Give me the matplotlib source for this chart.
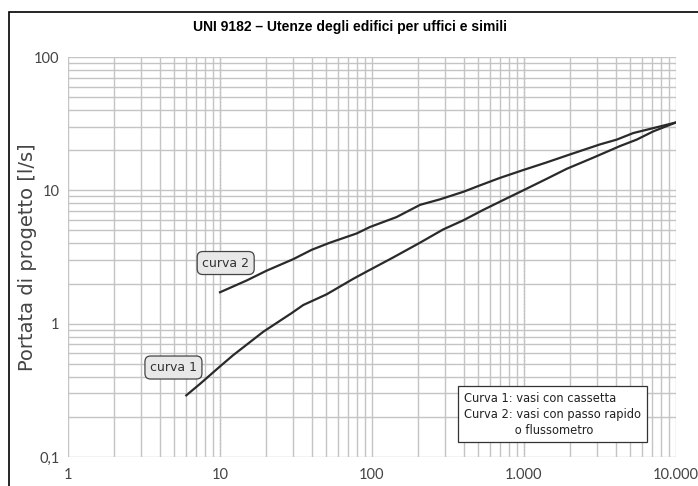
import matplotlib.pyplot as plt
from matplotlib.patches import Rectangle
from matplotlib.ticker import LogLocator, FixedLocator, NullFormatter

# Dati (UNI 9182)
x_curva1 = [6, 7.4, 10, 12.2, 19.3, 29.6, 35.3, 50.3, 75.3, 92.3, 138, 207, 294,
            399, 540, 769, 989, 1410, 1910, 2860, 4290, 5510, 7100, 10000]
y_curva1 = [0.29, 0.354, 0.478, 0.58, 0.871, 1.2, 1.38, 1.66, 2.17, 2.46, 3.14, 4.05, 5.09,
            5.96, 7.14, 8.7, 10.0, 12.2, 14.5, 17.6, 21.5, 24.0, 27.7, 32.3]

x_curva2 = [10, 15, 20.3, 30.4, 40.1, 52.9, 79.3, 97, 145, 207, 280, 399, 514,
            695, 989, 1410, 2010, 3160, 4070, 5240, 7100, 10000]
y_curva2 = [1.72, 2.11, 2.5, 3.05, 3.58, 4.05, 4.75, 5.31, 6.3, 7.78, 8.56, 9.75, 10.9,
            12.4, 14.2, 16.2, 18.6, 22.1, 24.0, 26.9, 29.3, 32.3]

x_ticks = [1, 10, 100, 1000, 10000]
x_labels = ['1', '10', '100', '1.000', '10.000']
y_ticks = [0.1, 1, 10, 100]
y_labels = ['0,1', '1', '10', '100']

fig = plt.figure(figsize=(6.98, 4.86), dpi=100)
ax = fig.add_axes([68 / 698, 1 - 457 / 486, 608 / 698, 400 / 486])

# Cornice esterna
fig.patches.append(Rectangle((9 / 698, -0.1), 1.2, 1 - 12 / 486 + 0.1, transform=fig.transFigure,
                             fill=False, edgecolor='black', linewidth=1.2))

ax.set_xscale('log')
ax.set_yscale('log')
ax.set_xlim(1, 10000)
ax.set_ylim(0.1, 100)

ax.xaxis.set_major_locator(FixedLocator(x_ticks))
ax.yaxis.set_major_locator(FixedLocator(y_ticks))
ax.xaxis.set_minor_locator(LogLocator(base=10, subs=range(2, 10), numticks=20))
ax.yaxis.set_minor_locator(LogLocator(base=10, subs=range(2, 10), numticks=20))
ax.xaxis.set_minor_formatter(NullFormatter())
ax.yaxis.set_minor_formatter(NullFormatter())
ax.set_xticklabels(x_labels, family='Lato')
ax.set_yticklabels(y_labels, family='Lato')
ax.tick_params(which='both', length=0, labelsize=10.5, colors='#444444')
ax.tick_params(axis='x', pad=8)
ax.tick_params(axis='y', pad=6)

ax.grid(True, which='both', color='#c4c4c4', linewidth=1.0)
for xv in [10, 1000]:
    ax.axvline(xv, color='#999999', linewidth=0.9, linestyle=':', zorder=1)
for s in ax.spines.values():
    s.set_visible(False)

ax.plot(x_curva1, y_curva1, color='#2a2a2a', linewidth=1.6, zorder=3)
ax.plot(x_curva2, y_curva2, color='#2a2a2a', linewidth=1.6, zorder=3)

box = dict(boxstyle='round,pad=0.4,rounding_size=0.45', facecolor='#e8e8e8',
           edgecolor='#444444', linewidth=0.9)
ax.text(10.9, 2.85, 'curva 2', fontsize=9, ha='center', va='center', color='#333333', bbox=box, zorder=4)
ax.text(4.94, 0.469, 'curva 1', fontsize=9, ha='center', va='center', color='#333333', bbox=box, zorder=4)

ax.text(0.651, 0.1075, 'Curva 1: vasi con cassetta\nCurva 2: vasi con passo rapido\n'
        '              o flussometro', transform=ax.transAxes, fontsize=8.3,
        ha='left', va='center', color='#222222', linespacing=1.3,
        bbox=dict(boxstyle='square,pad=0.5', facecolor='white', edgecolor='#333333', linewidth=0.9),
        zorder=4)

ax.set_ylabel('Portata di progetto [l/s]', fontsize=14, color='#444444')
ax.yaxis.set_label_coords((37 - 68) / 608, 0.5)
fig.text(350 / 698, 1 - 27 / 486, 'UNI 9182 – Utenze degli edifici per uffici e simili',
         ha='center', va='center', fontsize=10, fontweight='bold', family='Liberation Sans')

fig.savefig('out.png', dpi=100)
